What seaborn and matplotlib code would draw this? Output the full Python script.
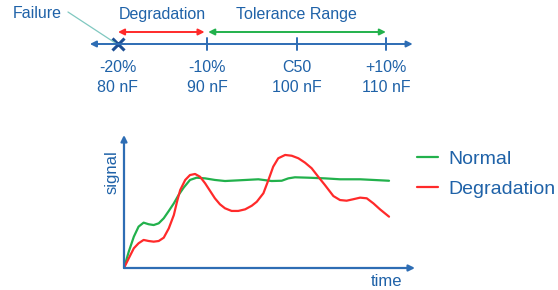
import pandas as pd
import matplotlib.pyplot as plt
import seaborn as sns

# number line values
cap_nf = [80, 90, 100, 110]
pct_labels = ["-20%", "-10%", "C50", "+10%"]
nf_labels = ["80 nF", "90 nF", "100 nF", "110 nF"]
degradation_range = [80, 90]
tolerance_range = [90, 110]
failure_nf = 80

# signal curves (time 0..10, signal 0..100)
normal_t = [0, 0.18, 0.37, 0.55, 0.74, 0.93, 1.12, 1.31, 1.5, 1.69, 1.88, 2.06, 2.25,
            2.49, 2.74, 3.06, 3.43, 3.81, 4.31, 5.07, 5.57, 5.95, 6.2, 6.45, 6.95, 7.58,
            8.15, 8.91, 9.41, 10.0]
normal_s = [0, 12.3, 23.5, 31.1, 34.1, 32.9, 32.3, 33.6, 37.4, 42.9, 48.6, 54.9, 60.4,
            66.2, 67.9, 67.4, 66.2, 65.4, 65.9, 66.7, 65.4, 65.6, 67.4, 68.2, 67.9, 67.4,
            66.7, 66.7, 66.2, 65.6]
degr_t = [0, 0.18, 0.37, 0.55, 0.74, 0.93, 1.12, 1.31, 1.5, 1.69, 1.88, 2.0, 2.12, 2.31,
          2.49, 2.68, 2.87, 3.06, 3.25, 3.43, 3.62, 3.81, 4.06, 4.31, 4.57, 4.82, 5.01,
          5.26, 5.45, 5.63, 5.82, 6.08, 6.33, 6.58, 6.83, 7.08, 7.33, 7.58, 7.9, 8.15,
          8.4, 8.65, 8.91, 9.16, 9.41, 9.66, 10.0]
degr_s = [0, 7.3, 14.8, 18.6, 21.1, 20.3, 19.8, 20.3, 22.8, 29.8, 39.8, 49.8, 58.6, 66.2,
          69.9, 70.7, 68.6, 63.7, 57.9, 52.4, 47.9, 44.9, 42.9, 42.9, 44.1, 46.8, 49.8,
          56.2, 66.2, 76.2, 82.5, 85.0, 84.4, 82.5, 79.2, 75.0, 68.6, 62.4, 54.1, 51.1,
          50.6, 51.7, 52.9, 52.4, 48.6, 44.1, 38.6]

sns.set_theme(style="white")
plt.rcParams["font.family"] = ["Liberation Sans", "DejaVu Sans"]

txt = "#1f62a8"
axis_c = "#2e6db4"
green = "#22b14c"
red = "#ff2a2a"

fig = plt.figure(figsize=(5.58, 2.9), dpi=100)

# %% top: capacitance number line (y in pixels from top)
top = fig.add_axes([0, 190 / 290, 1, 100 / 290])
top.set_xlim(66.79, 129.27)
top.set_ylim(100, 0)
top.axis("off")

top.annotate("", xy=(113.0, 44), xytext=(76.85, 44),
             arrowprops=dict(arrowstyle="<|-|>", color=axis_c, lw=1.4,
                             mutation_scale=9, shrinkA=0, shrinkB=0))
for v in cap_nf[1:]:
    top.plot([v, v], [38, 50], color=axis_c, lw=1.4)
top.plot([failure_nf], [44], marker="x", ms=8, mew=2.2, color="#1d4f94")

for v, p, n in zip(cap_nf, pct_labels, nf_labels):
    top.text(v, 67, p, ha="center", va="center", fontsize=11.5, color=txt)
    top.text(v, 88, n, ha="center", va="center", fontsize=11.5, color=txt)

top.annotate("", xy=(degradation_range[1] - 0.3, 32), xytext=(degradation_range[0], 32),
             arrowprops=dict(arrowstyle="<|-|>", color=red, lw=1.4,
                             mutation_scale=9, shrinkA=0, shrinkB=0))
top.annotate("", xy=(tolerance_range[1], 32), xytext=(tolerance_range[0] + 0.1, 32),
             arrowprops=dict(arrowstyle="<|-|>", color=green, lw=1.4,
                             mutation_scale=9, shrinkA=0, shrinkB=0))
top.text(sum(degradation_range) / 2, 15, "Degradation", ha="center", va="center",
         fontsize=11.5, color=txt)
top.text(sum(tolerance_range) / 2, 15, "Tolerance Range", ha="center", va="center",
         fontsize=11.5, color=txt)

top.text(68.2, 13, "Failure", ha="left", va="center", fontsize=11.5, color=txt)
top.plot([74.4, failure_nf - 0.3], [12, 43], color="#80c8c0", lw=0.9)

# %% bottom: signal over time
df = pd.concat([
    pd.DataFrame({"time": normal_t, "signal": normal_s, "state": "Normal"}),
    pd.DataFrame({"time": degr_t, "signal": degr_s, "state": "Degradation"}),
])

ax = fig.add_axes([124 / 558, 22 / 290, 291 / 558, 133 / 290])
sns.lineplot(df, x="time", y="signal", hue="state", estimator=None,
             palette={"Normal": green, "Degradation": red}, lw=1.6, ax=ax)
for line in ax.lines:
    line.set_solid_joinstyle("round")
ax.set_xlim(0, 10.98)
ax.set_ylim(0, 100)
ax.set_xlabel("")
ax.set_ylabel("")
ax.set_xticks([])
ax.set_yticks([])
for s in ax.spines.values():
    s.set_visible(False)

ax.annotate("", xy=(1, 0), xytext=(0, 0), xycoords="axes fraction",
            arrowprops=dict(arrowstyle="-|>", color=axis_c, lw=1.6,
                            mutation_scale=9, shrinkA=0, shrinkB=0))
ax.annotate("", xy=(0, 1), xytext=(0, 0), xycoords="axes fraction",
            arrowprops=dict(arrowstyle="-|>", color=axis_c, lw=1.6,
                            mutation_scale=9, shrinkA=0, shrinkB=0))
ax.text(9.92, -10.5, "time", ha="center", va="center", fontsize=12,
        color=txt, clip_on=False)
ax.text(-0.04, 0.72, "signal", transform=ax.transAxes, rotation=90,
        ha="center", va="center", fontsize=12, color=txt)

ax.legend(loc="upper left", bbox_to_anchor=(417 / 558, 1 - 150 / 290),
          bbox_transform=fig.transFigure, frameon=False, fontsize=14,
          labelcolor=txt, handlelength=1.1, handletextpad=0.5,
          labelspacing=0.66, borderaxespad=0, borderpad=0)

plt.savefig("out.png", dpi=100)
